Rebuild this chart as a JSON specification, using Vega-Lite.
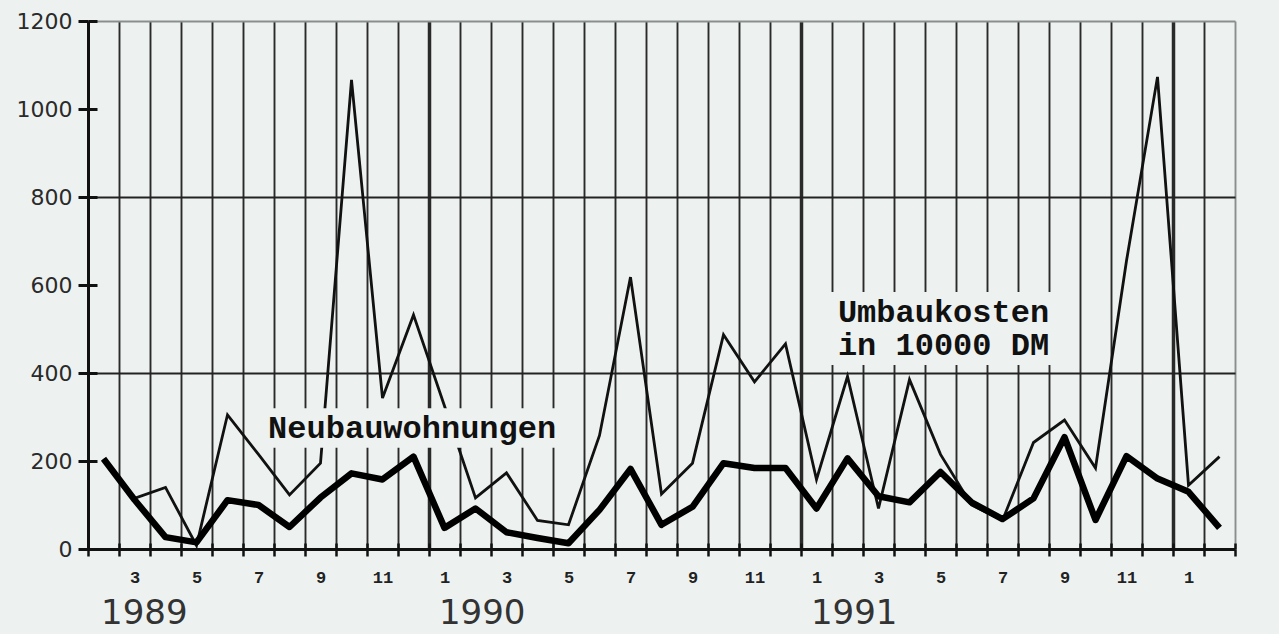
{
  "$schema": "https://vega.github.io/schema/vega-lite/v6.json",
  "width": 1147,
  "height": 528,
  "autosize": {"type": "none"},
  "padding": {"left": 88, "top": 21, "right": 44, "bottom": 85},
  "background": "#edf2f1",
  "config": {"view": {"stroke": null}},
  "datasets": {
    "serie": [
      {"i": 0, "monat": "1989-02", "umbau": 205, "neubau": 205},
      {"i": 1, "monat": "1989-03", "umbau": 115, "neubau": 112},
      {"i": 2, "monat": "1989-04", "umbau": 140, "neubau": 27},
      {"i": 3, "monat": "1989-05", "umbau": 8, "neubau": 15},
      {"i": 4, "monat": "1989-06", "umbau": 305, "neubau": 111},
      {"i": 5, "monat": "1989-07", "umbau": 215, "neubau": 100},
      {"i": 6, "monat": "1989-08", "umbau": 123, "neubau": 50},
      {"i": 7, "monat": "1989-09", "umbau": 195, "neubau": 117},
      {"i": 8, "monat": "1989-10", "umbau": 1066, "neubau": 172},
      {"i": 9, "monat": "1989-11", "umbau": 343, "neubau": 158},
      {"i": 10, "monat": "1989-12", "umbau": 532, "neubau": 210},
      {"i": 11, "monat": "1990-01", "umbau": 325, "neubau": 48},
      {"i": 12, "monat": "1990-02", "umbau": 116, "neubau": 92},
      {"i": 13, "monat": "1990-03", "umbau": 173, "neubau": 38},
      {"i": 14, "monat": "1990-04", "umbau": 65, "neubau": 25},
      {"i": 15, "monat": "1990-05", "umbau": 55, "neubau": 13},
      {"i": 16, "monat": "1990-06", "umbau": 258, "neubau": 89},
      {"i": 17, "monat": "1990-07", "umbau": 618, "neubau": 182},
      {"i": 18, "monat": "1990-08", "umbau": 125, "neubau": 55},
      {"i": 19, "monat": "1990-09", "umbau": 195, "neubau": 96},
      {"i": 20, "monat": "1990-10", "umbau": 487, "neubau": 195},
      {"i": 21, "monat": "1990-11", "umbau": 380, "neubau": 184},
      {"i": 22, "monat": "1990-12", "umbau": 466, "neubau": 184},
      {"i": 23, "monat": "1991-01", "umbau": 158, "neubau": 92},
      {"i": 24, "monat": "1991-02", "umbau": 392, "neubau": 206},
      {"i": 25, "monat": "1991-03", "umbau": 92, "neubau": 120},
      {"i": 26, "monat": "1991-04", "umbau": 385, "neubau": 106},
      {"i": 27, "monat": "1991-05", "umbau": 215, "neubau": 175},
      {"i": 28, "monat": "1991-06", "umbau": 100, "neubau": 106},
      {"i": 29, "monat": "1991-07", "umbau": 65, "neubau": 68},
      {"i": 30, "monat": "1991-08", "umbau": 242, "neubau": 115},
      {"i": 31, "monat": "1991-09", "umbau": 293, "neubau": 254},
      {"i": 32, "monat": "1991-10", "umbau": 184, "neubau": 66},
      {"i": 33, "monat": "1991-11", "umbau": 655, "neubau": 211},
      {"i": 34, "monat": "1991-12", "umbau": 1073, "neubau": 160},
      {"i": 35, "monat": "1992-01", "umbau": 145, "neubau": 130},
      {"i": 36, "monat": "1992-02", "umbau": 210, "neubau": 48}
    ],
    "kasten": [
      {"i_von": 5.15, "i_bis": 14.92, "wert_von": 230, "wert_bis": 320},
      {"i_von": 23.3, "i_bis": 30.92, "wert_von": 418, "wert_bis": 584}
    ],
    "beschriftung": [
      {"text": "Neubauwohnungen", "i": 5.31, "wert": 252},
      {"text": "Umbaukosten\nin 10000 DM", "i": 23.69, "wert": 517}
    ]
  },
  "resolve": {"axis": {"x": "independent", "y": "independent"}},
  "layer": [
    {
      "data": {"name": "serie"},
      "mark": {"type": "line", "color": "#111111", "strokeWidth": 2.8},
      "encoding": {
        "x": {
          "field": "i", "type": "quantitative",
          "scale": {"domain": [-0.5, 36.5], "nice": false, "zero": false},
          "axis": {
            "orient": "bottom",
            "values": [-0.5, 0.5, 1.5, 2.5, 3.5, 4.5, 5.5, 6.5, 7.5, 8.5, 9.5, 10.5, 11.5, 12.5, 13.5, 14.5, 15.5, 16.5, 17.5, 18.5, 19.5, 20.5, 21.5, 22.5, 23.5, 24.5, 25.5, 26.5, 27.5, 28.5, 29.5, 30.5, 31.5, 32.5, 33.5, 34.5, 35.5, 36.5],
            "labels": false,
            "title": null,
            "grid": true,
            "gridColor": {"condition": {"test": "datum.value === 36.5", "value": "#8a8f8e"}, "value": "#2a2a2a"},
            "gridWidth": {"condition": {"test": "datum.value === 10.5 || datum.value === 22.5 || datum.value === 34.5", "value": 3.5}, "value": 1.9},
            "ticks": true,
            "tickSize": 7,
            "tickWidth": 2.5,
            "tickColor": "#111111",
            "domain": true,
            "domainColor": "#111111",
            "domainWidth": 3
          }
        },
        "y": {
          "field": "umbau", "type": "quantitative",
          "scale": {"domain": [0, 1200], "nice": false, "zero": true},
          "axis": {
            "orient": "left",
            "values": [0, 200, 400, 600, 800, 1000, 1200],
            "format": "d",
            "title": null,
            "grid": true,
            "gridOpacity": {"condition": {"test": "datum.value === 400 || datum.value === 800 || datum.value === 1200", "value": 1}, "value": 0},
            "gridColor": {"condition": {"test": "datum.value === 1200", "value": "#8a8f8e"}, "value": "#222222"},
            "gridWidth": 1.8,
            "labelFont": "DejaVu Sans",
            "labelFontSize": 22,
            "labelColor": "#2a2a2a",
            "labelPadding": 6,
            "labelFlush": false,
            "tickSize": 10,
            "tickWidth": 3,
            "tickColor": "#111111",
            "domain": true,
            "domainColor": "#111111",
            "domainWidth": 3
          }
        }
      }
    },
    {
      "data": {"name": "serie"},
      "mark": {"type": "line", "color": "#000000", "strokeWidth": 6.5, "strokeJoin": "round"},
      "encoding": {
        "x": {
          "field": "i", "type": "quantitative",
          "scale": {"domain": [-0.5, 36.5], "nice": false, "zero": false},
          "axis": {
            "orient": "bottom",
            "values": [1, 3, 5, 7, 9, 11, 13, 15, 17, 19, 21, 23, 25, 27, 29, 31, 33, 35],
            "labelExpr": "((datum.value + 1) % 12) + 1",
            "title": null,
            "grid": false,
            "ticks": false,
            "domain": false,
            "labelPadding": 20,
            "labelFont": "Liberation Mono",
            "labelFontWeight": "bold",
            "labelFontSize": 17,
            "labelColor": "#222222",
            "labelFlush": false,
            "labelOverlap": false
          }
        },
        "y": {
          "field": "neubau", "type": "quantitative",
          "scale": {"domain": [0, 1200], "nice": false, "zero": true},
          "axis": null
        }
      }
    },
    {
      "data": {"name": "kasten"},
      "mark": {"type": "rect", "color": "#edf2f1"},
      "encoding": {
        "x": {
          "field": "i_von", "type": "quantitative",
          "scale": {"domain": [-0.5, 36.5], "nice": false, "zero": false},
          "axis": {
            "orient": "bottom",
            "values": [-0.5, 0.5, 1.5, 2.5, 3.5, 4.5, 5.5, 6.5, 7.5, 8.5, 9.5, 10.5, 11.5, 12.5, 13.5, 14.5, 15.5, 16.5, 17.5, 18.5, 19.5, 20.5, 21.5, 22.5, 23.5, 24.5, 25.5, 26.5, 27.5, 28.5, 29.5, 30.5, 31.5, 32.5, 33.5, 34.5, 35.5, 36.5],
            "labels": false,
            "title": null,
            "grid": false,
            "domain": false,
            "ticks": true,
            "tickSize": -6,
            "tickWidth": 2.5,
            "tickColor": "#111111"
          }
        },
        "x2": {"field": "i_bis"},
        "y": {
          "field": "wert_von", "type": "quantitative",
          "scale": {"domain": [0, 1200], "nice": false, "zero": true},
          "axis": {
            "orient": "left",
            "values": [0, 200, 400, 600, 800, 1000, 1200],
            "labels": false,
            "title": null,
            "grid": false,
            "domain": false,
            "ticks": true,
            "tickSize": -9,
            "tickWidth": 3,
            "tickColor": "#111111"
          }
        },
        "y2": {"field": "wert_bis"}
      }
    },
    {
      "data": {"name": "beschriftung"},
      "mark": {"type": "text", "font": "Liberation Mono", "fontWeight": "bold", "fontSize": 32, "color": "#111111", "align": "left", "baseline": "alphabetic", "lineBreak": "\n", "lineHeight": 33},
      "encoding": {
        "x": {
          "field": "i", "type": "quantitative",
          "scale": {"domain": [-0.5, 36.5], "nice": false, "zero": false},
          "axis": {
            "orient": "bottom",
            "values": [1.3, 12.2, 24.2],
            "labelExpr": "datum.value < 6 ? '1989' : datum.value < 18 ? '1990' : '1991'",
            "title": null,
            "grid": false,
            "ticks": false,
            "domain": false,
            "labelPadding": 47,
            "labelFont": "DejaVu Sans",
            "labelFontSize": 34,
            "labelColor": "#333333",
            "labelFlush": false,
            "labelOverlap": false
          }
        },
        "y": {"field": "wert", "type": "quantitative", "scale": {"domain": [0, 1200], "nice": false, "zero": true}, "axis": null},
        "text": {"field": "text", "type": "nominal"}
      }
    }
  ]
}
